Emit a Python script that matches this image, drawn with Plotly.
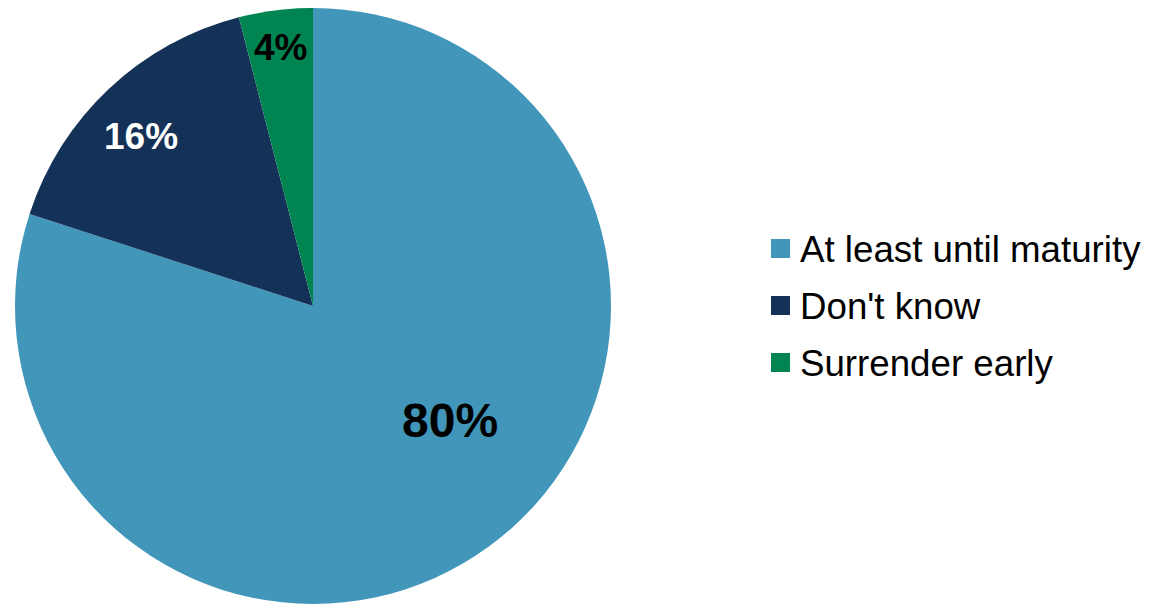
import plotly.graph_objects as go

categories = ["At least until maturity", "Don't know", "Surrender early"]
shares = [80, 16, 4]
colors = ["#4196BA", "#143257", "#008552"]
label_colors = ["#000000", "#FFFFFF", "#000000"]

W, H = 1149, 604
FONT = "Liberation Sans, Arial, sans-serif"

fig = go.Figure(
    go.Pie(
        labels=categories,
        values=shares,
        marker=dict(colors=colors, line=dict(width=0)),
        sort=False,
        direction="clockwise",
        rotation=0,
        textinfo="none",
        hoverinfo="label+percent",
        showlegend=False,
        domain=dict(x=[14 / W, 612 / W], y=[0.0, 596 / H]),
    )
)

# value labels placed inside each slice
label_pos = [(450, 421, 48), (141, 136, 37), (280, 48, 37)]
for val, col, (px, py, fs) in zip(shares, label_colors, label_pos):
    fig.add_annotation(
        x=px / W, y=1 - py / H, xref="paper", yref="paper",
        text=f"<b>{val}%</b>", showarrow=False,
        font=dict(family=FONT, size=fs, color=col),
        xanchor="center", yanchor="middle",
    )

# legend: colour swatch + category name per row
row_y = [249, 306, 363]
for name, col, cy in zip(categories, colors, row_y):
    fig.add_shape(
        type="rect", xref="paper", yref="paper",
        x0=771 / W, x1=790 / W, y0=1 - (cy - 10) / H, y1=1 - (cy + 9) / H,
        fillcolor=col, line=dict(width=0),
    )
    fig.add_annotation(
        x=798 / W, y=1 - cy / H, xref="paper", yref="paper",
        text=name, showarrow=False, xanchor="left", yanchor="middle",
        font=dict(family=FONT, size=36.7, color="#000000"),
    )

fig.update_layout(
    width=W, height=H,
    margin=dict(l=0, r=0, t=0, b=0),
    paper_bgcolor="white", plot_bgcolor="white",
)

fig.write_html("out.html")
